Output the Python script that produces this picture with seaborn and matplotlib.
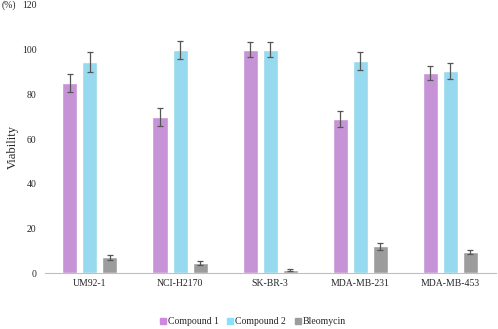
import pandas as pd
import seaborn as sns
import matplotlib.pyplot as plt
from matplotlib.lines import Line2D
import numpy as np

# values
cells = ['UM92-1', 'NCI-H2170', 'SK-BR-3', 'MDA-MB-231', 'MDA-MB-453']
compounds = ['Compound 1', 'Compound 2', 'Bleomycin']
comp1 = [85, 70, 100, 69, 89.5]
comp2 = [94.5, 100, 100, 95, 90.5]
bleo = [7, 4.5, 1.2, 12, 9.5]
comp1_err = [4, 4, 3.5, 3.5, 3]
comp2_err = [4.5, 4, 3.5, 4, 3.5]
bleo_err = [1, 0.7, 0.4, 1.5, 1]
colors = ['#CD88E2', '#88E0FD', '#9C9C9C']

df = pd.DataFrame({
    'cell': cells * 3,
    'compound': np.repeat(compounds, len(cells)),
    'viability': comp1 + comp2 + bleo,
    'err': comp1_err + comp2_err + bleo_err,
})

sns.set_style('white')
plt.rcParams['font.family'] = ['Liberation Serif', 'DejaVu Serif']

fig, ax = plt.subplots(figsize=(4.98, 3.29), dpi=100)
fig.subplots_adjust(left=0.09, right=0.995, bottom=0.17, top=0.985)

sns.barplot(data=df, x='cell', y='viability', hue='compound', order=cells,
            hue_order=compounds, palette=colors, width=0.667, gap=0.25,
            errorbar=None, legend=False, ax=ax)

# error bars on top of the bars seaborn drew
for patch, (_, row) in zip(ax.patches, df.iterrows()):
    xc = patch.get_x() + patch.get_width() / 2
    ax.errorbar(xc, row['viability'], yerr=row['err'], fmt='none',
                ecolor='#555555', elinewidth=0.9, capsize=2, capthick=0.9)

ax.set_ylim(0, 120)
ax.set_yticks(range(0, 121, 20))
ax.set_xlim(-0.5, 4.5)
ax.set_xlabel('')
ax.set_ylabel('Viability', fontsize=9)
ax.yaxis.set_label_coords(-0.058, 0.47)
ax.tick_params(axis='x', labelsize=7, length=0, pad=4)
ax.tick_params(axis='y', labelsize=7, length=0, pad=6)
for s in ['top', 'right', 'left']:
    ax.spines[s].set_visible(False)
ax.spines['bottom'].set_color('#BFBFBF')
fig.text(2 / 498, 1 - 5 / 329, '(%)', fontsize=7, ha='left', va='center')

handles = [Line2D([], [], marker='s', linestyle='', color=c, markersize=4)
           for c in colors]
fig.legend(handles, compounds, loc='center', ncol=3, frameon=False,
           fontsize=7, bbox_to_anchor=(0.507, 1 - 322 / 329),
           handletextpad=0.1, columnspacing=0.8, handlelength=0.8)

fig.savefig('out.png', dpi=100)
